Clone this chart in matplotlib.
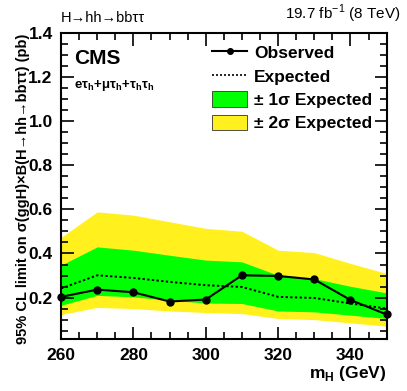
import matplotlib
matplotlib.use("Agg")
import matplotlib.pyplot as plt
from matplotlib.lines import Line2D
from matplotlib.patches import Patch
from matplotlib.ticker import MultipleLocator

plt.rcParams["font.family"] = ["Liberation Sans", "DejaVu Sans"]

mass = [260, 270, 280, 290, 300, 310, 320, 330, 340, 350]
observed = [0.203, 0.236, 0.224, 0.182, 0.191, 0.301, 0.298, 0.282, 0.189, 0.123]
expected = [0.241, 0.301, 0.289, 0.271, 0.256, 0.248, 0.203, 0.198, 0.173, 0.150]
plus1 = [0.347, 0.430, 0.415, 0.392, 0.370, 0.362, 0.301, 0.286, 0.251, 0.221]
minus1 = [0.165, 0.210, 0.203, 0.188, 0.175, 0.173, 0.139, 0.135, 0.120, 0.105]
plus2 = [0.473, 0.589, 0.574, 0.544, 0.514, 0.501, 0.415, 0.404, 0.355, 0.309]
minus2 = [0.123, 0.155, 0.150, 0.139, 0.132, 0.127, 0.105, 0.100, 0.085, 0.070]

green = "#00ff00"
yellow = "#fff01e"

fig = plt.figure(figsize=(4.07, 3.91), dpi=100)
ax = fig.add_axes([0.150, 0.132, 0.800, 0.783])

ax.fill_between(mass, minus2, plus2, color=yellow, lw=0)
ax.fill_between(mass, minus1, plus1, color=green, lw=0)
ax.plot(mass, expected, color="black", ls=(0, (1.2, 1.2)), lw=1.4)
ax.plot(mass, observed, color="black", lw=1.5, marker="o", ms=5, clip_on=False)

ax.set_xlim(260, 350)
ax.set_ylim(0.01, 1.4)
ax.xaxis.set_major_locator(MultipleLocator(20))
ax.xaxis.set_minor_locator(MultipleLocator(5))
ax.yaxis.set_major_locator(MultipleLocator(0.2))
ax.yaxis.set_minor_locator(MultipleLocator(0.05))
ax.tick_params(which="both", direction="in", top=True, right=True, width=1.2)
ax.tick_params(which="major", length=9, labelsize=12.5, pad=6)
ax.tick_params(which="minor", length=5)
for lab in ax.get_xticklabels() + ax.get_yticklabels():
    lab.set_fontweight("bold")
ax.yaxis.set_major_formatter(matplotlib.ticker.FormatStrFormatter("%.1f"))
for s in ax.spines.values():
    s.set_linewidth(1.5)

ax.set_xlabel(r"m$_\mathregular{H}$ (GeV)", fontsize=12.5, fontweight="bold", ha="right", x=1.0)
ax.set_ylabel("95% CL limit on σ(ggH)×B(H→hh→bbττ) (pb)", fontsize=10.5,
              fontweight="bold", ha="right", y=1.0)
ax.yaxis.set_label_coords(-0.095, 1.0)
ax.xaxis.set_label_coords(1.0, -0.08)

fig.text(0.150, 0.935, "H→hh→bbττ", fontsize=10.5, ha="left", va="bottom")
fig.text(0.983, 0.935, r"19.7 fb$^{\mathregular{-1}}$ (8 TeV)", fontsize=11, ha="right", va="bottom")
ax.text(0.04, 0.95, "CMS", transform=ax.transAxes, fontsize=15, fontweight="bold", va="top")
ax.text(0.04, 0.855, r"e$\mathregular{τ_h}$+$\mathregular{μτ_h}$+$\mathregular{τ_hτ_h}$",
        transform=ax.transAxes, fontsize=9.5, fontweight="bold", va="top")

handles = [
    Line2D([], [], color="black", lw=1.5, marker="o", ms=4),
    Line2D([], [], color="black", lw=1.2, ls=(0, (1.2, 1.2))),
    Patch(facecolor=green, edgecolor="#333333", lw=0.6),
    Patch(facecolor=yellow, edgecolor="#333333", lw=0.6),
]
labels = ["Observed", "Expected", "± 1σ Expected", "± 2σ Expected"]
leg = ax.legend(handles, labels, loc="upper left", bbox_to_anchor=(0.463, 0.963),
                frameon=False, borderpad=0, borderaxespad=0, handlelength=2.05,
                handleheight=1.0, handletextpad=0.4, labelspacing=0.38,
                prop={"size": 12.5, "weight": "bold"})

fig.savefig("out.png", dpi=100)
